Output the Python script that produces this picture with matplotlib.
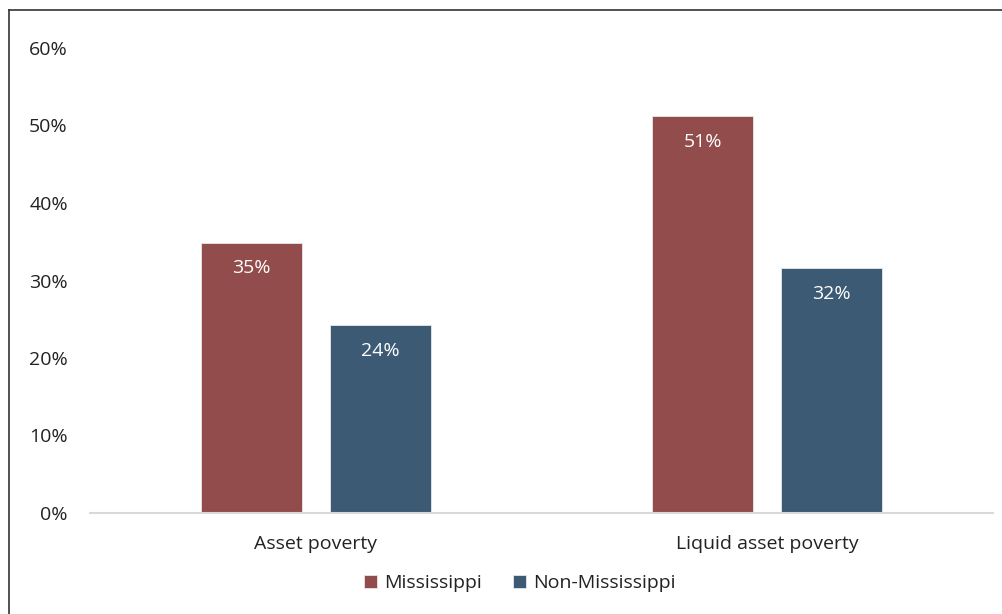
import matplotlib
matplotlib.use("Agg")
import matplotlib.pyplot as plt
from matplotlib.lines import Line2D
import numpy as np

categories = ["Asset poverty", "Liquid asset poverty"]
series_names = ["Mississippi", "Non-Mississippi"]
mississippi = [34.9, 51.2]
non_mississippi = [24.2, 31.6]
y_ticks = [0, 10, 20, 30, 40, 50, 60]

colors = ["#924C4C", "#3C5A74"]

plt.rcParams["font.family"] = ["Open Sans", "DejaVu Sans"]
FS = 14

W, H = 1002, 614
fig = plt.figure(figsize=(W / 100, H / 100), dpi=100)
ax = fig.add_axes([90 / W, 1 - 513 / H, (993 - 90) / W, (513 - 48) / H])

x = np.arange(len(categories))
bw = 0.224
off = 0.1429
for vals, name, col, dx in [(mississippi, series_names[0], colors[0], -off),
                            (non_mississippi, series_names[1], colors[1], off)]:
    bars = ax.bar(x + dx, vals, width=bw, color=col, edgecolor="#e8e8e8",
                  linewidth=0.6, label=name, zorder=2)
    for b, v in zip(bars, vals):
        ax.text(b.get_x() + b.get_width() / 2, v - 3.35, f"{v:.0f}%",
                ha="center", va="center", color="white", fontsize=FS)

ax.set_xlim(-0.5, 1.5)
ax.set_ylim(0, 60)
ax.set_yticks(y_ticks)
ax.set_yticklabels([f"{t}%" for t in y_ticks], fontsize=FS, color="#222222")
ax.set_xticks(x)
ax.set_xticklabels(categories, fontsize=FS, color="#222222")
ax.tick_params(axis="both", length=0)
ax.tick_params(axis="y", pad=16)
ax.tick_params(axis="x", pad=16)
for s in ["top", "right", "left"]:
    ax.spines[s].set_visible(False)
ax.spines["bottom"].set_color("#d9d9d9")
ax.spines["bottom"].set_linewidth(1.5)

leg = fig.legend(loc="center", bbox_to_anchor=(520 / W, 1 - 583 / H), ncol=2,
                 frameon=False, fontsize=FS, handlelength=0.65, handleheight=0.65,
                 handletextpad=0.4, columnspacing=1.6)
for t in leg.get_texts():
    t.set_color("#222222")

# frame lines along the left and top edges
fig.add_artist(Line2D([8.5 / W, 8.5 / W], [0, 1 - 9.5 / H], transform=fig.transFigure,
                      color="#333333", linewidth=1.2))
fig.add_artist(Line2D([8.5 / W, 1], [1 - 9.5 / H, 1 - 9.5 / H], transform=fig.transFigure,
                      color="#333333", linewidth=1.2))

fig.savefig("out.png", dpi=100, facecolor="white")
